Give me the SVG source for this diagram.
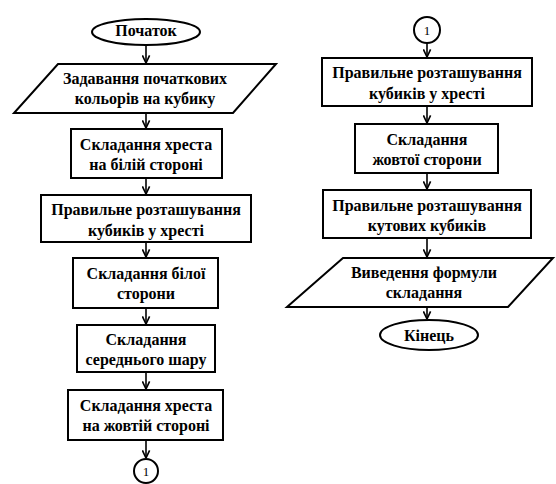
<svg xmlns="http://www.w3.org/2000/svg" width="556" height="484" viewBox="0 0 556 484">
<style>
.s{fill:#fff;stroke:#000;stroke-width:2}
.t{font-family:'Liberation Serif','Times New Roman',serif;font-weight:700;font-size:16px;text-anchor:middle;fill:#000}
.n{font-family:'Liberation Serif','Times New Roman',serif;font-weight:400;font-size:13px;text-anchor:middle;fill:#000}
.c{fill:none;stroke:#000;stroke-width:1.6}
</style>
<defs>
<marker id="ah" viewBox="0 0 10 10" refX="9.5" refY="5" markerWidth="9" markerHeight="9" markerUnits="userSpaceOnUse" orient="auto">
<path d="M1,1 L9.5,5 L1,9" fill="none" stroke="#000" stroke-width="1.8"/>
</marker>
</defs>
<rect width="556" height="484" fill="#fff"/>
<g id="connectors">
<line class="c" x1="146" y1="45" x2="146" y2="63" marker-end="url(#ah)"/>
<line class="c" x1="146" y1="113" x2="146" y2="128" marker-end="url(#ah)"/>
<line class="c" x1="146" y1="178" x2="146" y2="194" marker-end="url(#ah)"/>
<line class="c" x1="146" y1="242" x2="146" y2="257" marker-end="url(#ah)"/>
<line class="c" x1="146" y1="308" x2="146" y2="324" marker-end="url(#ah)"/>
<line class="c" x1="146" y1="372" x2="146" y2="389" marker-end="url(#ah)"/>
<line class="c" x1="146" y1="440" x2="146" y2="458" marker-end="url(#ah)"/>
<line class="c" x1="427" y1="43" x2="427" y2="57" marker-end="url(#ah)"/>
<line class="c" x1="427" y1="106" x2="427" y2="123" marker-end="url(#ah)"/>
<line class="c" x1="427" y1="173" x2="427" y2="189" marker-end="url(#ah)"/>
<line class="c" x1="427" y1="238" x2="427" y2="257" marker-end="url(#ah)"/>
<line class="c" x1="427" y1="307" x2="427" y2="319" marker-end="url(#ah)"/>
</g>
<g id="start">
<ellipse class="s" cx="146" cy="32" rx="54" ry="13"/>
<text class="t" x="146" y="36">Початок</text>
</g>
<g id="input-colors">
<polygon class="s" points="58,64 276,64 233,113 14,113"/>
<text class="t" x="145" y="84">Задавання початкових</text>
<text class="t" x="145" y="104">кольорів на кубику</text>
</g>
<g id="white-cross">
<rect class="s" x="71" y="129" width="151" height="49"/>
<text class="t" x="146" y="150">Складання хреста</text>
<text class="t" x="146" y="170">на білій стороні</text>
</g>
<g id="cross-edges">
<rect class="s" x="41" y="195" width="210" height="47"/>
<text class="t" x="146" y="215">Правильне розташування</text>
<text class="t" x="146" y="236">кубиків у хресті</text>
</g>
<g id="white-side">
<rect class="s" x="73" y="258" width="145" height="50"/>
<text class="t" x="146" y="279">Складання білої</text>
<text class="t" x="146" y="299">сторони</text>
</g>
<g id="middle-layer">
<rect class="s" x="77" y="325" width="138" height="47"/>
<text class="t" x="146" y="345">Складання</text>
<text class="t" x="146" y="365">середнього шару</text>
</g>
<g id="yellow-cross">
<rect class="s" x="68" y="390" width="155" height="50"/>
<text class="t" x="146" y="411">Складання хреста</text>
<text class="t" x="146" y="431">на жовтій стороні</text>
</g>
<g id="connector-out">
<circle class="s" cx="146" cy="471" r="12"/>
<text class="n" x="146" y="476">1</text>
</g>
<g id="connector-in">
<circle class="s" cx="427" cy="30" r="13"/>
<text class="n" x="427" y="35">1</text>
</g>
<g id="cross-edges-2">
<rect class="s" x="322" y="58" width="210" height="48"/>
<text class="t" x="427" y="78">Правильне розташування</text>
<text class="t" x="427" y="99">кубиків у хресті</text>
</g>
<g id="yellow-side">
<rect class="s" x="355" y="124" width="143" height="49"/>
<text class="t" x="427" y="145">Складання</text>
<text class="t" x="427" y="165">жовтої сторони</text>
</g>
<g id="corner-cubes">
<rect class="s" x="323" y="190" width="208" height="48"/>
<text class="t" x="427" y="211">Правильне розташування</text>
<text class="t" x="427" y="231">кутових кубиків</text>
</g>
<g id="output-formula">
<polygon class="s" points="343,258 553,258 508,307 287,307"/>
<text class="t" x="424" y="278">Виведення формули</text>
<text class="t" x="424" y="298">складання</text>
</g>
<g id="end">
<ellipse class="s" cx="429" cy="335" rx="49" ry="15"/>
<text class="t" x="429" y="341">Кінець</text>
</g>
</svg>
